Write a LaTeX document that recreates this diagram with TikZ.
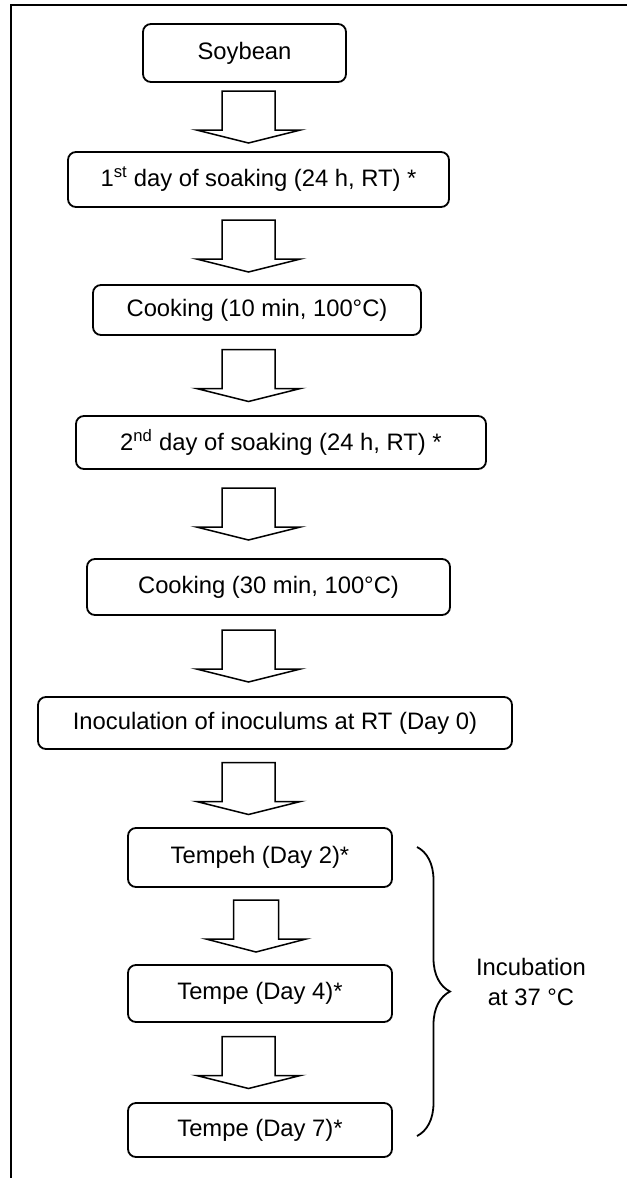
\documentclass[tikz,border=0pt]{standalone}
\usepackage{fontspec}
\setmainfont{Liberation Sans}
\usetikzlibrary{calc, decorations.pathreplacing}

\begin{document}
\begin{tikzpicture}[x=1pt, y=-1pt,
	stage/.style={draw, rounded corners=8pt, line width=1.8pt, inner sep=0pt, font=\fontsize{23.8}{30}\selectfont},
	bigarrow/.style={draw, line width=1.5pt, line join=miter},
	incubbrace/.style={decorate, decoration={brace, amplitude=33pt}, line width=1.8pt}]
				\useasboundingbox (0,0) rectangle (627,1178);
				\draw[line width=2pt] (11,1178) -- (11,5) -- (627,5);
				\node[stage, minimum width=203pt, minimum height=58pt] (soy) at (244.5,53) {Soybean};
				\node[stage, minimum width=381pt, minimum height=55pt] (soak1) at (258.5,179.5) {1\textsuperscript{st} day of soaking (24 h, RT) *};
				\node[stage, minimum width=328pt, minimum height=50pt] (cook1) at (257,310) {Cooking (10 min, 100°C)};
				\node[stage, minimum width=410pt, minimum height=53pt] (soak2) at (281,442.5) {2\textsuperscript{nd} day of soaking (24 h, RT) *};
				\node[stage, minimum width=363pt, minimum height=56pt] (cook2) at (268.5,587) {Cooking (30 min, 100°C)};
				\node[stage, minimum width=474pt, minimum height=52pt] (inoc) at (275,723) {Inoculation of inoculums at RT (Day 0)};
				\node[stage, minimum width=264pt, minimum height=59pt] (day2) at (260,857.5) {Tempeh (Day 2)*};
				\node[stage, minimum width=264pt, minimum height=57pt] (day4) at (260,993.5) {Tempe (Day 4)*};
				\node[stage, minimum width=264pt, minimum height=54pt] (day7) at (260,1130) {Tempe (Day 7)*};
				% block arrows between the stages
				\foreach \a/\b/\x/\s/\h in {soy/soak1/248.5/26.5/52, soak1/cook1/248.5/26.5/52, cook1/soak2/248.5/26.5/52, soak2/cook2/248.5/26.5/52, cook2/inoc/248.5/26.5/52, inoc/day2/248.5/26.5/52, day2/day4/256/22.5/50, day4/day7/248.5/26.5/52}{
					\coordinate (mid) at ($(\a.south)!.5!(\b.north)$);
					\draw[bigarrow] (\x,0 |- mid) ++(-\s,-26) -- ++(2*\s,0) -- ++(0,39) -- ++(\h-\s,0) -- ++(-\h,13) -- ++(-\h,-13) -- ++(\h-\s,0) -- cycle;
				}
				\coordinate (bracetop) at (417,847);
				\coordinate (bracebot) at (417,1136);
				\draw[incubbrace] (bracetop) -- (bracebot);
				\node[font=\fontsize{23.8}{30}\selectfont, align=center] (incub) at (531,981.5) {Incubation\\at 37 °C};
			\end{tikzpicture}
\end{document}
